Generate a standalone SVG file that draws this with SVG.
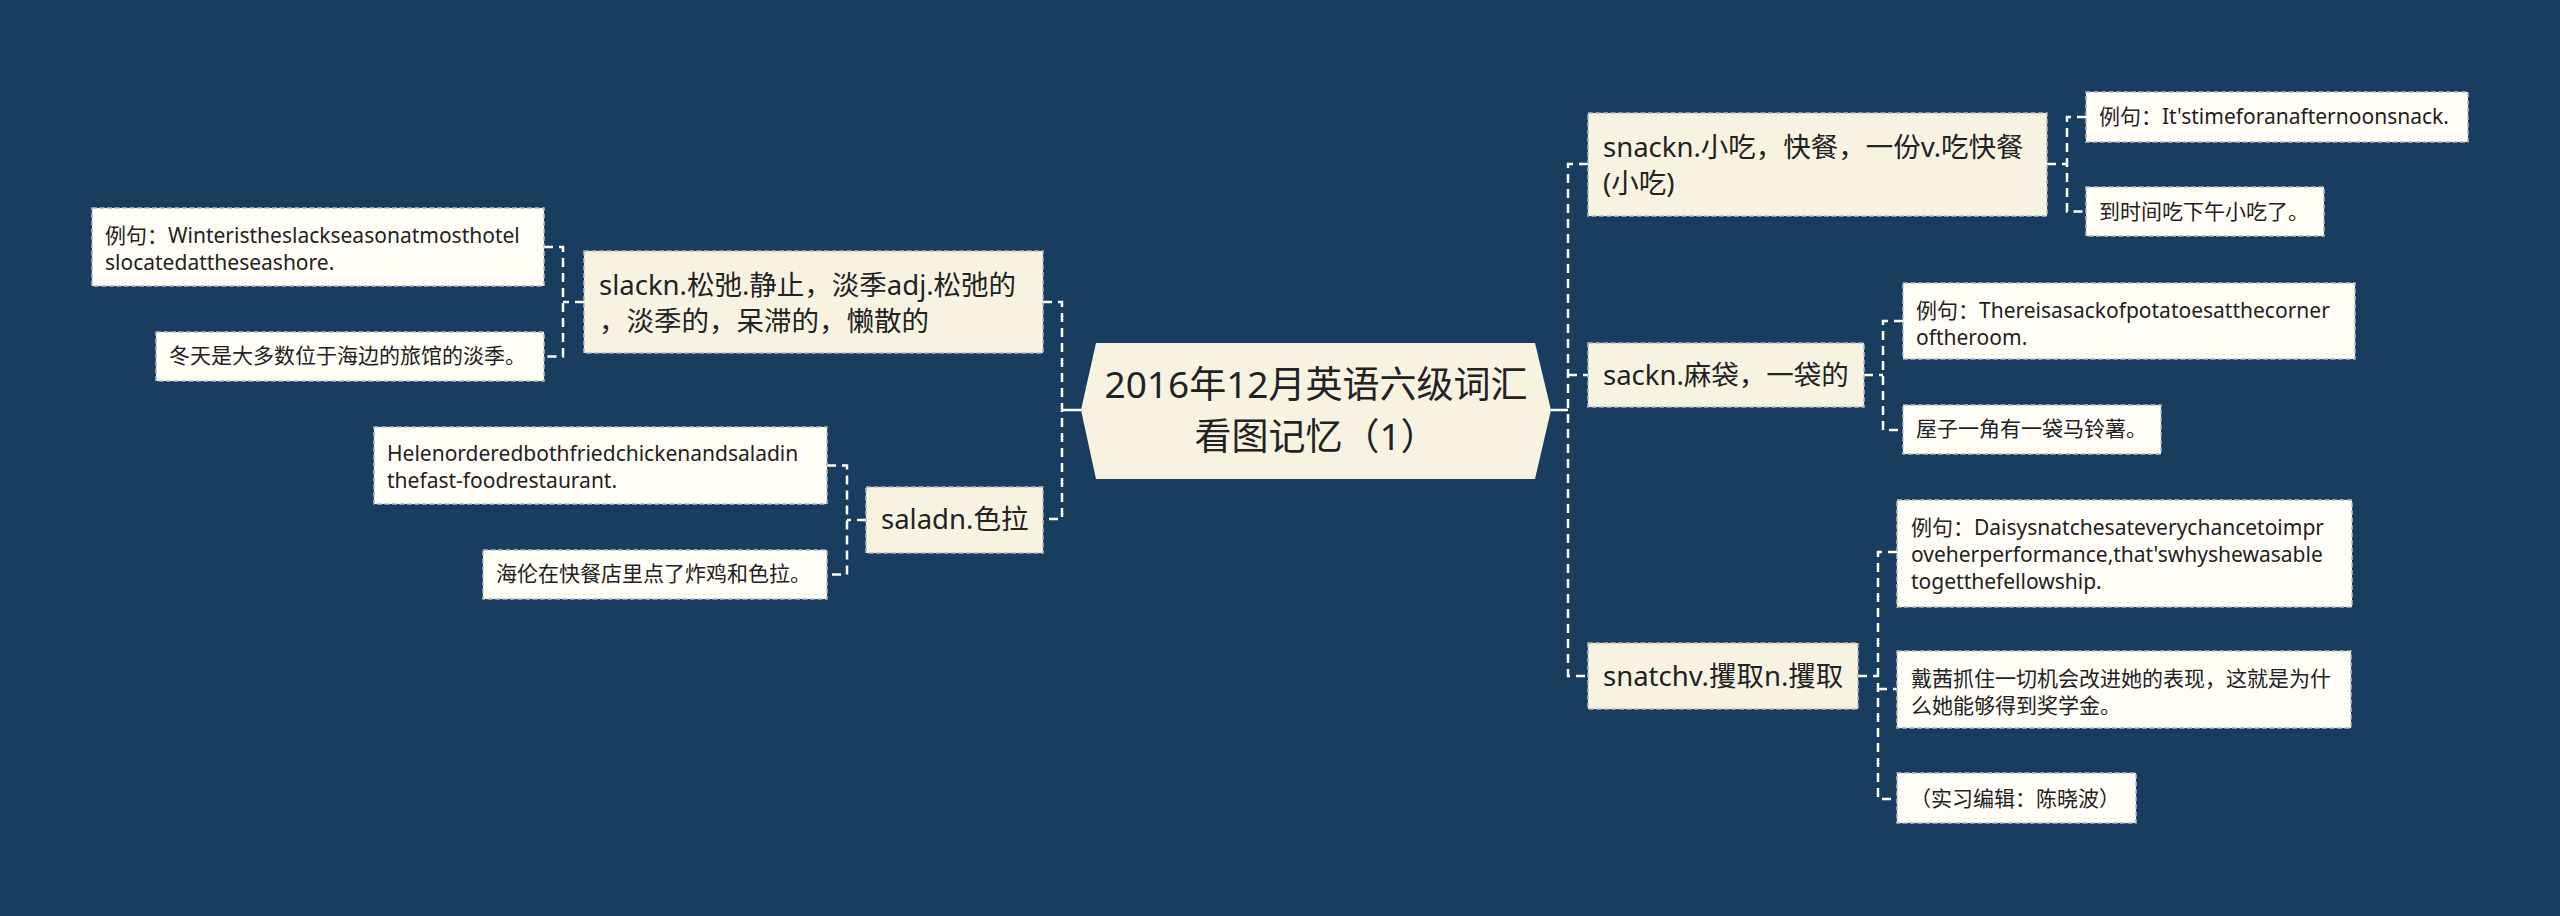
<svg xmlns="http://www.w3.org/2000/svg" width="2560" height="916" viewBox="0 0 2560 916">
<style>
.bg{fill:#193d5e}
.main rect{fill:#f8f3e1;stroke:#b4bac1;stroke-width:1.5;stroke-dasharray:5 2.5}
.leaf rect{fill:#fffdf6;stroke:#b4bac1;stroke-width:1.5;stroke-dasharray:5 2.5}
text{font-family:"Noto Sans","Noto Sans CJK SC",sans-serif;fill:#222222}
.main text{font-size:27.5px}
.leaf text{font-size:21px}
.ctr text{font-size:37px;text-anchor:middle}
.dash{fill:none;stroke:#ffffff;stroke-width:2.5;stroke-dasharray:9 6}
.solid{fill:none;stroke:#ffffff;stroke-width:2.5}
</style>
<rect class="bg" x="0" y="0" width="2560" height="916"/>
<g id="connectors">
<path class="solid" d="M1062 410H1081M1551 410H1568"/>
<path class="dash" d="M1043 302H1062V519H1043"/>
<path class="dash" d="M584 302H563M544 247H563V356.5H544"/>
<path class="dash" d="M866 520H847M827 465.5H847V574.5H827"/>
<path class="dash" d="M1588 164H1568V676H1588M1568 375H1588"/>
<path class="dash" d="M2047 164H2067M2086 117H2067V211.5H2086"/>
<path class="dash" d="M1864 375H1883M1903 321H1883V430H1903"/>
<path class="dash" d="M1858 676H1878M1897 552H1878V799H1897M1878 689H1897"/>
</g>
<g id="center" class="ctr">
<polygon points="1081,410 1096,343 1535,343 1551,410 1535,479 1096,479" fill="#f8f3e1"/>
<text x="1316" y="398">2016年12月英语六级词汇</text>
<text x="1316" y="450">看图记忆（1）</text>
</g>
<g id="slack" class="main">
<rect x="584" y="251" width="459" height="102"/>
<text x="599" y="295">slackn.松弛.静止，淡季adj.松弛的</text>
<text x="599" y="331">，淡季的，呆滞的，懒散的</text>
</g>
<g id="salad" class="main">
<rect x="866" y="487" width="177" height="66"/>
<text x="881" y="529">saladn.色拉</text>
</g>
<g id="snack" class="main">
<rect x="1588" y="113" width="459" height="103"/>
<text x="1603" y="157">snackn.小吃，快餐，一份v.吃快餐</text>
<text x="1603" y="193">(小吃)</text>
</g>
<g id="sack" class="main">
<rect x="1588" y="343" width="276" height="64"/>
<text x="1603" y="385">sackn.麻袋，一袋的</text>
</g>
<g id="snatch" class="main">
<rect x="1588" y="643" width="270" height="66"/>
<text x="1603" y="686">snatchv.攫取n.攫取</text>
</g>
<g id="leaf-slack-ex" class="leaf">
<rect x="92" y="208" width="452" height="78"/>
<text x="105" y="243">例句：Winteristheslackseasonatmosthotel</text>
<text x="105" y="270">slocatedattheseashore.</text>
</g>
<g id="leaf-slack-cn" class="leaf">
<rect x="156" y="332" width="388" height="49"/>
<text x="169" y="363">冬天是大多数位于海边的旅馆的淡季。</text>
</g>
<g id="leaf-salad-ex" class="leaf">
<rect x="374" y="427" width="453" height="77"/>
<text x="387" y="461">Helenorderedbothfriedchickenandsaladin</text>
<text x="387" y="488">thefast-foodrestaurant.</text>
</g>
<g id="leaf-salad-cn" class="leaf">
<rect x="483" y="550" width="344" height="49"/>
<text x="496" y="581">海伦在快餐店里点了炸鸡和色拉。</text>
</g>
<g id="leaf-snack-ex" class="leaf">
<rect x="2086" y="92" width="382" height="50"/>
<text x="2099" y="124">例句：It'stimeforanafternoonsnack.</text>
</g>
<g id="leaf-snack-cn" class="leaf">
<rect x="2086" y="187" width="238" height="49"/>
<text x="2099" y="219">到时间吃下午小吃了。</text>
</g>
<g id="leaf-sack-ex" class="leaf">
<rect x="1903" y="283" width="452" height="76"/>
<text x="1916" y="318">例句：Thereisasackofpotatoesatthecorner</text>
<text x="1916" y="345">oftheroom.</text>
</g>
<g id="leaf-sack-cn" class="leaf">
<rect x="1903" y="405" width="258" height="49"/>
<text x="1916" y="436">屋子一角有一袋马铃薯。</text>
</g>
<g id="leaf-snatch-ex" class="leaf">
<rect x="1897" y="500" width="455" height="107"/>
<text x="1911" y="535">例句：Daisysnatchesateverychancetoimpr</text>
<text x="1911" y="562">oveherperformance,that'swhyshewasable</text>
<text x="1911" y="589">togetthefellowship.</text>
</g>
<g id="leaf-snatch-cn" class="leaf">
<rect x="1897" y="651" width="454" height="77"/>
<text x="1911" y="686">戴茜抓住一切机会改进她的表现，这就是为什</text>
<text x="1911" y="713">么她能够得到奖学金。</text>
</g>
<g id="leaf-editor" class="leaf">
<rect x="1897" y="773" width="239" height="50"/>
<text x="1910" y="806">（实习编辑：陈晓波）</text>
</g>
</svg>
